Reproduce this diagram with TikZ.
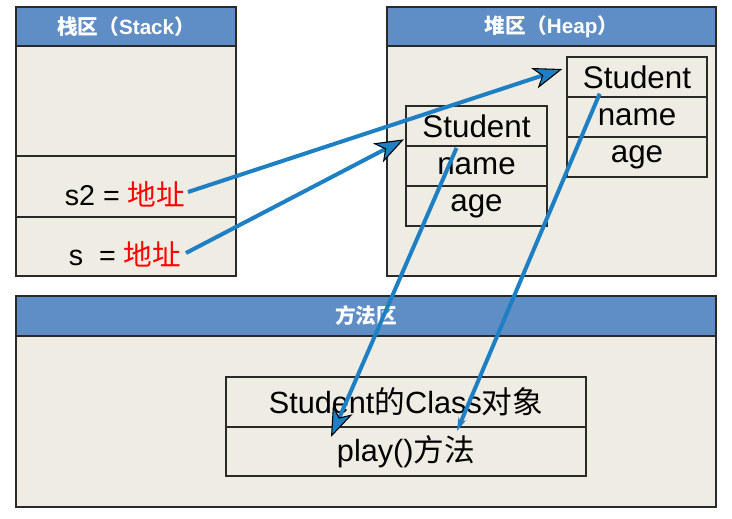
\documentclass[tikz,border=0pt]{standalone}
\usepackage{fontspec}
\setmainfont{Liberation Sans}
\newfontfamily\cjk{Noto Sans CJK SC}
\usetikzlibrary{arrows.meta}
\definecolor{hdrblue}{HTML}{5F8DC6}
\definecolor{bodyc}{HTML}{EFECE4}
\definecolor{linec}{HTML}{2A2A2A}
\definecolor{arrblue}{HTML}{1E80C4}
\tikzset{
  panel/.style={draw=linec, fill=bodyc, line width=1pt, inner sep=0pt},
  hdr/.style={draw=linec, fill=hdrblue, line width=1pt, inner sep=0pt, text=white, font=\bfseries\fontsize{15.5}{17}\selectfont},
  cell/.style={draw=linec, fill=bodyc, line width=1pt, inner sep=0pt, font=\fontsize{23.5}{26}\selectfont},
  txt/.style={inner sep=0pt, font=\fontsize{21.5}{24}\selectfont},
  ptr/.style={draw=arrblue, line width=3pt, -{Stealth[length=22pt,width=16pt,inset=6pt,color=black,fill=arrblue,line width=0.8pt]}},
}
\begin{document}
\begin{tikzpicture}[x=0.75pt,y=-0.75pt]
\useasboundingbox[fill=white] (0,0) rectangle (732,518);
% Stack
\node[panel, minimum width=220*0.75pt, minimum height=230*0.75pt] (stackbody) at (126,161) {};
\node[hdr, minimum width=220*0.75pt, minimum height=39*0.75pt] (stackhdr) at (126,26.5) {{\cjk\bfseries 栈区（}Stack{\cjk\bfseries ）}};
\draw[linec, line width=1pt] (16,156) -- (236,156);
\draw[linec, line width=1pt] (16,217) -- (236,217);
\node[txt] (s2var) at (125,194) {s2 = {\color{red}\cjk 地址}};
\node[txt] (svar) at (125,254) {s\ \ = {\color{red}\cjk 地址}};
% Heap
\node[panel, minimum width=329*0.75pt, minimum height=230*0.75pt] (heapbody) at (551.5,161) {};
\node[hdr, minimum width=329*0.75pt, minimum height=39*0.75pt] (heaphdr) at (551.5,26.5) {{\cjk\bfseries 堆区（}Heap{\cjk\bfseries ）}};
\node[cell, minimum width=141*0.75pt, minimum height=40*0.75pt] (stuA1) at (476.5,126) {Student};
\node[cell, minimum width=141*0.75pt, minimum height=40*0.75pt] (stuA2) at (476.5,166) {name};
\node[cell, minimum width=141*0.75pt, minimum height=40*0.75pt] (stuA3) at (476.5,206) {age};
\node[cell, minimum width=140*0.75pt, minimum height=40*0.75pt] (stuB1) at (637,77) {Student};
\node[cell, minimum width=140*0.75pt, minimum height=40*0.75pt] (stuB2) at (637,117) {name};
\node[cell, minimum width=140*0.75pt, minimum height=40*0.75pt] (stuB3) at (637,157) {age};
% Method area
\node[panel, minimum width=700*0.75pt, minimum height=171*0.75pt] (methbody) at (366,421.5) {};
\node[hdr, minimum width=700*0.75pt, minimum height=40*0.75pt] (methhdr) at (366,316) {{\cjk\bfseries 方法区}};
\node[cell, font=\fontsize{23}{26}\selectfont, minimum width=360*0.75pt, minimum height=50*0.75pt] (clsobj) at (406,402) {Student{\cjk 的}Class{\cjk 对象}};
\node[cell, font=\fontsize{23}{26}\selectfont, minimum width=360*0.75pt, minimum height=49*0.75pt] (play) at (406,451.5) {play(){\cjk 方法}};
% pointers
\coordinate (s2ptr) at (188,192);
\coordinate (sptr) at (186,253);
\coordinate (clsA) at (331,437);
\coordinate (clsB) at (457,431);
\draw[ptr] (s2ptr) -- ([xshift=-3pt,yshift=6pt]stuB1.west);
\draw[ptr] (sptr) -- ([xshift=-1pt,yshift=-10pt]stuA1.west);
\draw[ptr] ([xshift=-15pt,yshift=-1pt]stuA1.south) -- (clsA);
\draw[draw=arrblue, line width=3pt, -{Stealth[length=10pt,width=6pt,fill=arrblue,color=arrblue]}] ([xshift=-28pt,yshift=3pt]stuB1.south) -- (clsB);
\end{tikzpicture}
\end{document}
